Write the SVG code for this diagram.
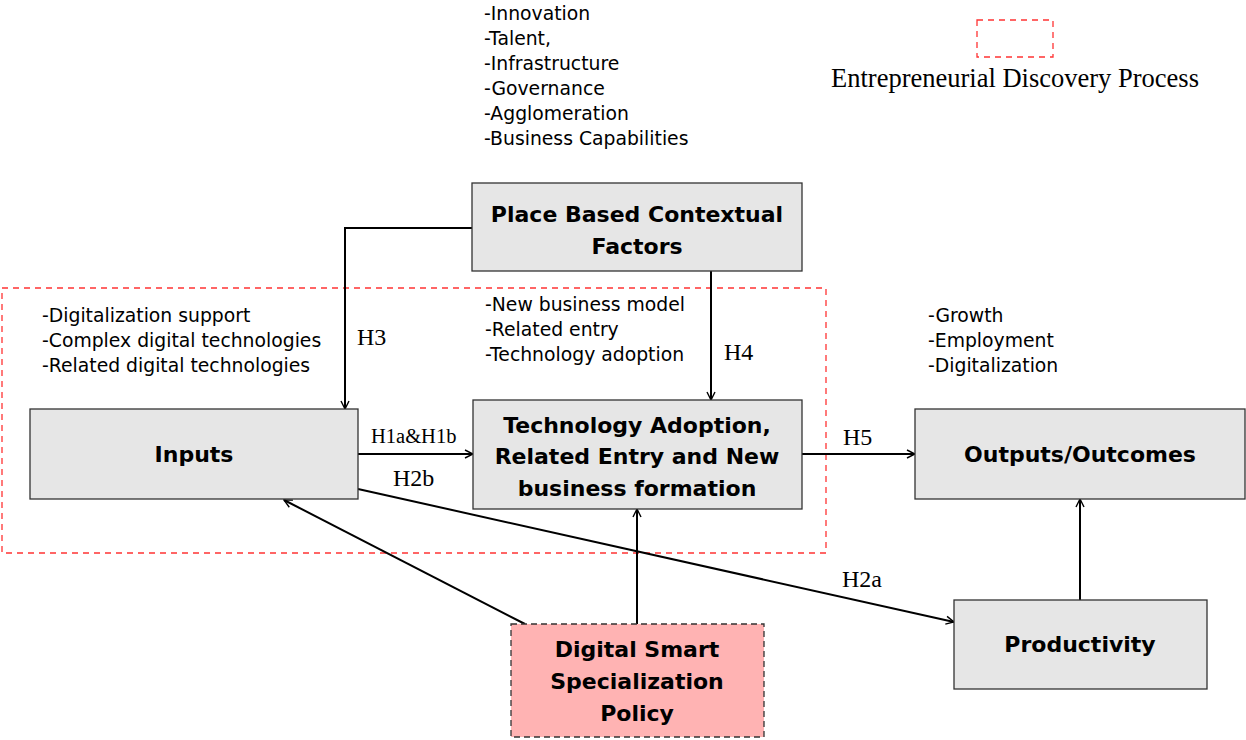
<svg xmlns="http://www.w3.org/2000/svg" width="1246" height="740" viewBox="0 0 1246 740">
<style>
.box{fill:#e6e6e6;stroke:#333;stroke-width:1.3}
.pol{fill:#ffb3b3;stroke:#333;stroke-width:1.3;stroke-dasharray:6 4}
.t{font-family:"DejaVu Sans",sans-serif;font-weight:bold;font-size:22px;fill:#000;text-anchor:middle}
.l{font-family:"DejaVu Sans",sans-serif;font-size:18.8px;fill:#000}
.h{font-family:"Liberation Serif",serif;font-size:24px;fill:#000}
.edp{fill:none;stroke:#ff3333;stroke-width:1.3;stroke-dasharray:6 5}
.c{fill:none;stroke:#000;stroke-width:2;marker-end:url(#a)}
</style>
<defs>
<marker id="a" viewBox="0 0 10 10" refX="9" refY="5" markerWidth="10" markerHeight="10" markerUnits="userSpaceOnUse" orient="auto">
<path d="M1,1 L9,5 L1,9" fill="none" stroke="#000" stroke-width="1.4"/>
</marker>
</defs>
<rect class="edp" x="2" y="288" width="824" height="265"/>
<g id="legend">
<rect class="edp" x="977" y="20" width="76" height="37"/>
<text x="1015" y="87" font-family="Liberation Serif,serif" font-size="26.5" text-anchor="middle">Entrepreneurial Discovery Process</text>
</g>
<g id="list-context">
<text class="l" x="484" y="20">-Innovation</text>
<text class="l" x="484" y="45">-Talent,</text>
<text class="l" x="484" y="70">-Infrastructure</text>
<text class="l" x="484" y="95">-Governance</text>
<text class="l" x="484" y="120">-Agglomeration</text>
<text class="l" x="484" y="145">-Business Capabilities</text>
</g>
<g id="list-inputs">
<text class="l" x="42" y="322">-Digitalization support</text>
<text class="l" x="42" y="347">-Complex digital technologies</text>
<text class="l" x="42" y="372">-Related digital technologies</text>
</g>
<g id="list-tech">
<text class="l" x="485" y="311">-New business model</text>
<text class="l" x="485" y="336">-Related entry</text>
<text class="l" x="485" y="361">-Technology adoption</text>
</g>
<g id="list-outputs">
<text class="l" x="928" y="322">-Growth</text>
<text class="l" x="928" y="347">-Employment</text>
<text class="l" x="928" y="372">-Digitalization</text>
</g>
<g id="connectors">
<path class="c" d="M472,228 H345 V409"/>
<path class="c" d="M711,271 V400"/>
<path class="c" d="M358,454 H473"/>
<path class="c" d="M802,454 H915"/>
<path class="c" d="M358,489 L954,622"/>
<path class="c" d="M525,624 L284,500"/>
<path class="c" d="M637,624 V509"/>
<path class="c" d="M1080,600 V499"/>
<text class="h" x="357" y="345">H3</text>
<text class="h" x="724" y="360">H4</text>
<text x="371" y="443" font-family="Liberation Serif,serif" font-size="20.5">H1a&amp;H1b</text>
<text class="h" x="393" y="486">H2b</text>
<text class="h" x="843" y="445">H5</text>
<text class="h" x="842" y="587">H2a</text>
</g>
<g id="place">
<rect class="box" x="472" y="183" width="330" height="88"/>
<text class="t" x="637" y="222">Place Based Contextual</text>
<text class="t" x="637" y="254">Factors</text>
</g>
<g id="inputs">
<rect class="box" x="30" y="409" width="328" height="90"/>
<text class="t" x="194" y="462">Inputs</text>
</g>
<g id="tech">
<rect class="box" x="473" y="400" width="329" height="109"/>
<text class="t" x="637" y="433">Technology Adoption,</text>
<text class="t" x="637" y="464">Related Entry and New</text>
<text class="t" x="637" y="496">business formation</text>
</g>
<g id="outputs">
<rect class="box" x="915" y="409" width="330" height="90"/>
<text class="t" x="1080" y="462">Outputs/Outcomes</text>
</g>
<g id="productivity">
<rect class="box" x="954" y="600" width="253" height="89"/>
<text class="t" x="1080" y="652">Productivity</text>
</g>
<g id="policy">
<rect class="pol" x="511" y="624" width="253" height="113"/>
<text class="t" x="637" y="657">Digital Smart</text>
<text class="t" x="637" y="689">Specialization</text>
<text class="t" x="637" y="721">Policy</text>
</g>
</svg>
